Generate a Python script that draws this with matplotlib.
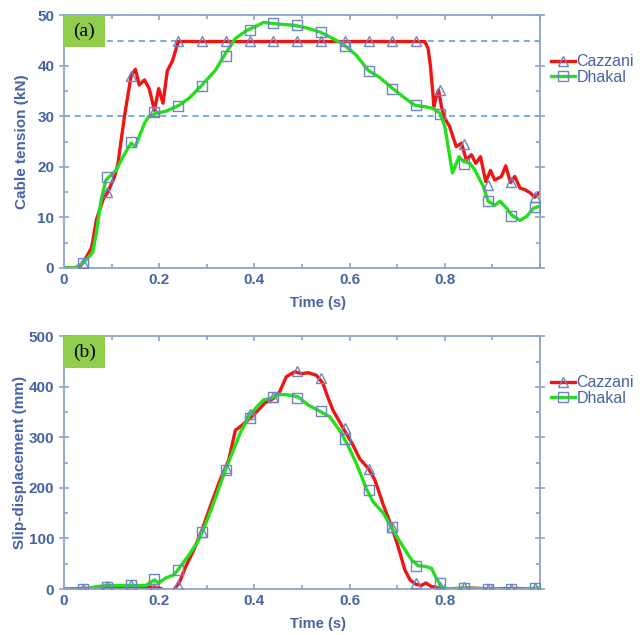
import numpy as np
import matplotlib.pyplot as plt
from matplotlib.ticker import MultipleLocator
from matplotlib.patches import Rectangle

plt.rcParams['font.family'] = ['Liberation Sans', 'DejaVu Sans']

# ---- (a) cable tension ----
t_caz_a = [0, 0.03, 0.04, 0.058, 0.068, 0.082, 0.092, 0.106, 0.113, 0.127, 0.141, 0.15, 0.158, 0.169,
           0.179, 0.19, 0.199, 0.208, 0.217, 0.228, 0.24, 0.758, 0.765, 0.77, 0.775, 0.777, 0.782,
           0.787, 0.793, 0.8, 0.81, 0.824, 0.835, 0.845, 0.856, 0.865, 0.875, 0.886, 0.896, 0.905,
           0.919, 0.928, 0.938, 0.947, 0.958, 0.968, 0.979, 0.989, 0.998]
f_caz_a = [0, 0, 1, 4, 9.5, 13.5, 15, 18, 20.4, 30, 38, 39.3, 36.2, 37.2,
           35.5, 31.2, 35.5, 32.6, 39, 41, 44.8, 44.8, 43.4, 39.8, 34.5, 31.9, 33.9,
           35.2, 31.9, 29.6, 28, 24, 24.7, 21.4, 22.4, 20.7, 22, 17.1, 19.3, 17.4,
           18.1, 20.2, 16.9, 18.1, 15.8, 15.5, 14.9, 14, 14.8]
t_dha_a = [0, 0.023, 0.04, 0.06, 0.068, 0.078, 0.088, 0.096, 0.11, 0.124, 0.141, 0.15, 0.158, 0.169,
           0.178, 0.193, 0.214, 0.242, 0.263, 0.29, 0.318, 0.339, 0.36, 0.384, 0.401, 0.419, 0.436,
           0.457, 0.485, 0.513, 0.537, 0.565, 0.589, 0.614, 0.639, 0.663, 0.688, 0.712, 0.737,
           0.758, 0.775, 0.79, 0.8, 0.807, 0.816, 0.823, 0.83, 0.839, 0.853, 0.863, 0.881, 0.891,
           0.905, 0.916, 0.93, 0.94, 0.958, 0.972, 0.986, 0.998]
f_dha_a = [0, 0, 1, 3, 6.9, 13.5, 17.4, 18.1, 19.4, 22, 24.7, 24, 26, 28.6,
           30, 30.6, 31, 32.2, 33.6, 36.2, 39.1, 42.4, 45.4, 47, 47.7, 48.6, 48.4,
           48.2, 48, 47.4, 46.7, 45.4, 44.1, 42.1, 39.1, 37.7, 35.7, 33.9, 32.2,
           31.9, 31.6, 30.6, 28, 24, 18.8, 20.4, 22, 21.1, 20.7, 19.4, 16.1, 13.2,
           12.4, 13.2, 11.8, 10.5, 9.4, 10.2, 11.8, 12.2]
tm = [0.04, 0.09, 0.14, 0.19, 0.24, 0.29, 0.34, 0.39, 0.44, 0.49, 0.54, 0.59, 0.64, 0.69,
      0.74, 0.79, 0.84, 0.89, 0.94, 0.99]
m_caz_a = [1, 15, 38, 31, 45, 45, 45, 45, 45, 45, 45, 45, 45, 45, 45, 35.2, 24.5, 16.5, 17, 14]
m_dha_a = [1, 18, 25, 30.8, 32, 36, 42, 47, 48.4, 48, 46.6, 44, 39, 35.5, 32.2, 30.5, 20.5, 13.2, 10.3, 12]

# ---- (b) slip displacement ----
t_caz_b = [0, 0.068, 0.096, 0.144, 0.179, 0.2, 0.214, 0.221, 0.229, 0.242, 0.256, 0.273, 0.29, 0.311,
           0.328, 0.346, 0.36, 0.374, 0.391, 0.408, 0.422, 0.44, 0.453, 0.467, 0.485, 0.499, 0.513,
           0.53, 0.544, 0.554, 0.565, 0.589, 0.607, 0.621, 0.639, 0.653, 0.671, 0.688, 0.702,
           0.716, 0.727, 0.74, 0.751, 0.76, 0.772, 0.79, 0.8, 0.853, 0.9, 0.95, 0.993]
d_caz_b = [0, 2, 3, 5, 4, 2, -3, -8, -3, 12, 45, 78, 117, 173,
           216, 255, 314, 324, 338, 354, 368, 377, 390, 420, 430, 426, 428,
           423, 407, 380, 354, 314, 285, 258, 239, 216, 166, 124, 84,
           38, 18, 9, 7, 12, 5, 2, 0, 2, 0, 1, 0]
t_dha_b = [0, 0.047, 0.068, 0.096, 0.144, 0.172, 0.19, 0.199, 0.214, 0.231, 0.245, 0.263, 0.283,
           0.301, 0.318, 0.339, 0.356, 0.37, 0.388, 0.405, 0.419, 0.436, 0.453, 0.471, 0.492,
           0.513, 0.533, 0.558, 0.579, 0.596, 0.614, 0.635, 0.649, 0.671, 0.691, 0.712, 0.73,
           0.744, 0.758, 0.772, 0.782, 0.793, 0.804, 0.839, 0.888, 0.93, 0.958, 0.997]
d_dha_b = [0, 0, 5, 7, 7, 7, 18, 12, 22, 28, 45, 68, 97,
           137, 180, 235, 275, 308, 341, 360, 374, 378, 385, 384, 380,
           364, 354, 341, 314, 285, 249, 199, 173, 150, 117, 84, 58,
           46, 45, 41, 22, 5, 0, 2, 0, -1, 0, 2]
m_caz_b = [0, 5, 7, 3, 8, 113, 240, 347, 380, 432, 418, 318, 237, 122, 12, 4, 4, 0, 0, 2]
m_dha_b = [0, 4, 7, 20, 38, 113, 236, 338, 380, 378, 352, 296, 196, 122, 46, 12, 2, 0, 0, 2]

blue = '#4763a8'
spine_c = '#8ea2cf'
mk_c = '#6f85bf'

fig = plt.figure(figsize=(6.4, 6.35), dpi=100)
ax1 = fig.add_axes([0.1, 0.578, 0.74375, 0.398])
ax2 = fig.add_axes([0.1, 0.0724, 0.74375, 0.398])


def style(ax, ylabel, ymax, ymaj, ymin, ypad):
    ax.set_xlim(0, 1.0)
    ax.set_ylim(0, ymax)
    ax.xaxis.set_minor_locator(MultipleLocator(0.1))
    ax.yaxis.set_major_locator(MultipleLocator(ymaj))
    ax.yaxis.set_minor_locator(MultipleLocator(ymin))
    ax.set_xticks([0, 0.2, 0.4, 0.6, 0.8])
    ax.set_xticklabels(['0', '0.2', '0.4', '0.6', '0.8'])
    for s in ax.spines.values():
        s.set_color(spine_c)
        s.set_linewidth(1.3)
    ax.tick_params(which='both', direction='in', top=True, right=True, color=spine_c,
                   labelcolor=blue, labelsize=11, width=1.2)
    ax.tick_params(axis='y', which='major', direction='inout', length=7)
    ax.tick_params(which='minor', length=3)
    for lab in ax.get_xticklabels() + ax.get_yticklabels():
        lab.set_fontweight('bold')
    ax.set_xlabel('Time (s)', color=blue, fontsize=10.5, fontweight='bold', labelpad=4)
    ax.xaxis.set_label_coords(0.534, -0.11)
    ax.set_ylabel(ylabel, color=blue, fontsize=11, fontweight='bold', labelpad=ypad)


def draw(ax, tc, yc, td, yd, mc, md, tag):
    ax.plot(tm, mc, linestyle='none', marker='^', ms=7, mfc='none', mec=mk_c, mew=1, zorder=3)
    ax.plot(tm, md, linestyle='none', marker='s', ms=7, mfc='none', mec=mk_c, mew=1, zorder=3)
    ax.plot(tc, yc, color='#f01414', lw=2.4, zorder=2)
    ax.plot(td, yd, color='#22e01c', lw=2.4, zorder=2)
    h1 = plt.Line2D([], [], color='#f01414', lw=2.4, marker='^', ms=7, mfc='none', mec=mk_c)
    h2 = plt.Line2D([], [], color='#22e01c', lw=2.4, marker='s', ms=7, mfc='none', mec=mk_c)
    leg = ax.legend([h1, h2], ['Cazzani', 'Dhakal'], loc='upper left', bbox_to_anchor=(1.0, 0.89),
                    frameon=False, handlelength=1.5, handletextpad=0.1, labelspacing=0.05,
                    borderaxespad=0.3, prop={'size': 11.5})
    for txt in leg.get_texts():
        txt.set_color(blue)
    ax.add_patch(Rectangle((0, 0.874), 0.086, 0.126, transform=ax.transAxes,
                           fc='#8fcd4a', ec='none', zorder=4))
    ax.text(0.043, 0.937, tag, transform=ax.transAxes, ha='center', va='center', fontsize=14,
            family='Liberation Serif', color='black', zorder=5)


draw(ax1, t_caz_a, f_caz_a, t_dha_a, f_dha_a, m_caz_a, m_dha_a, '(a)')
for yv in [45, 30]:
    ax1.axhline(yv, color='#4a9ad6', lw=1.1, ls=(0, (4, 3)), zorder=1)
style(ax1, 'Cable tension (kN)', 50, 10, 5, 6)

draw(ax2, t_caz_b, d_caz_b, t_dha_b, d_dha_b, m_caz_b, m_dha_b, '(b)')
style(ax2, 'Slip-displacement (mm)', 500, 100, 50, 1)

fig.savefig('out.png', dpi=100)
